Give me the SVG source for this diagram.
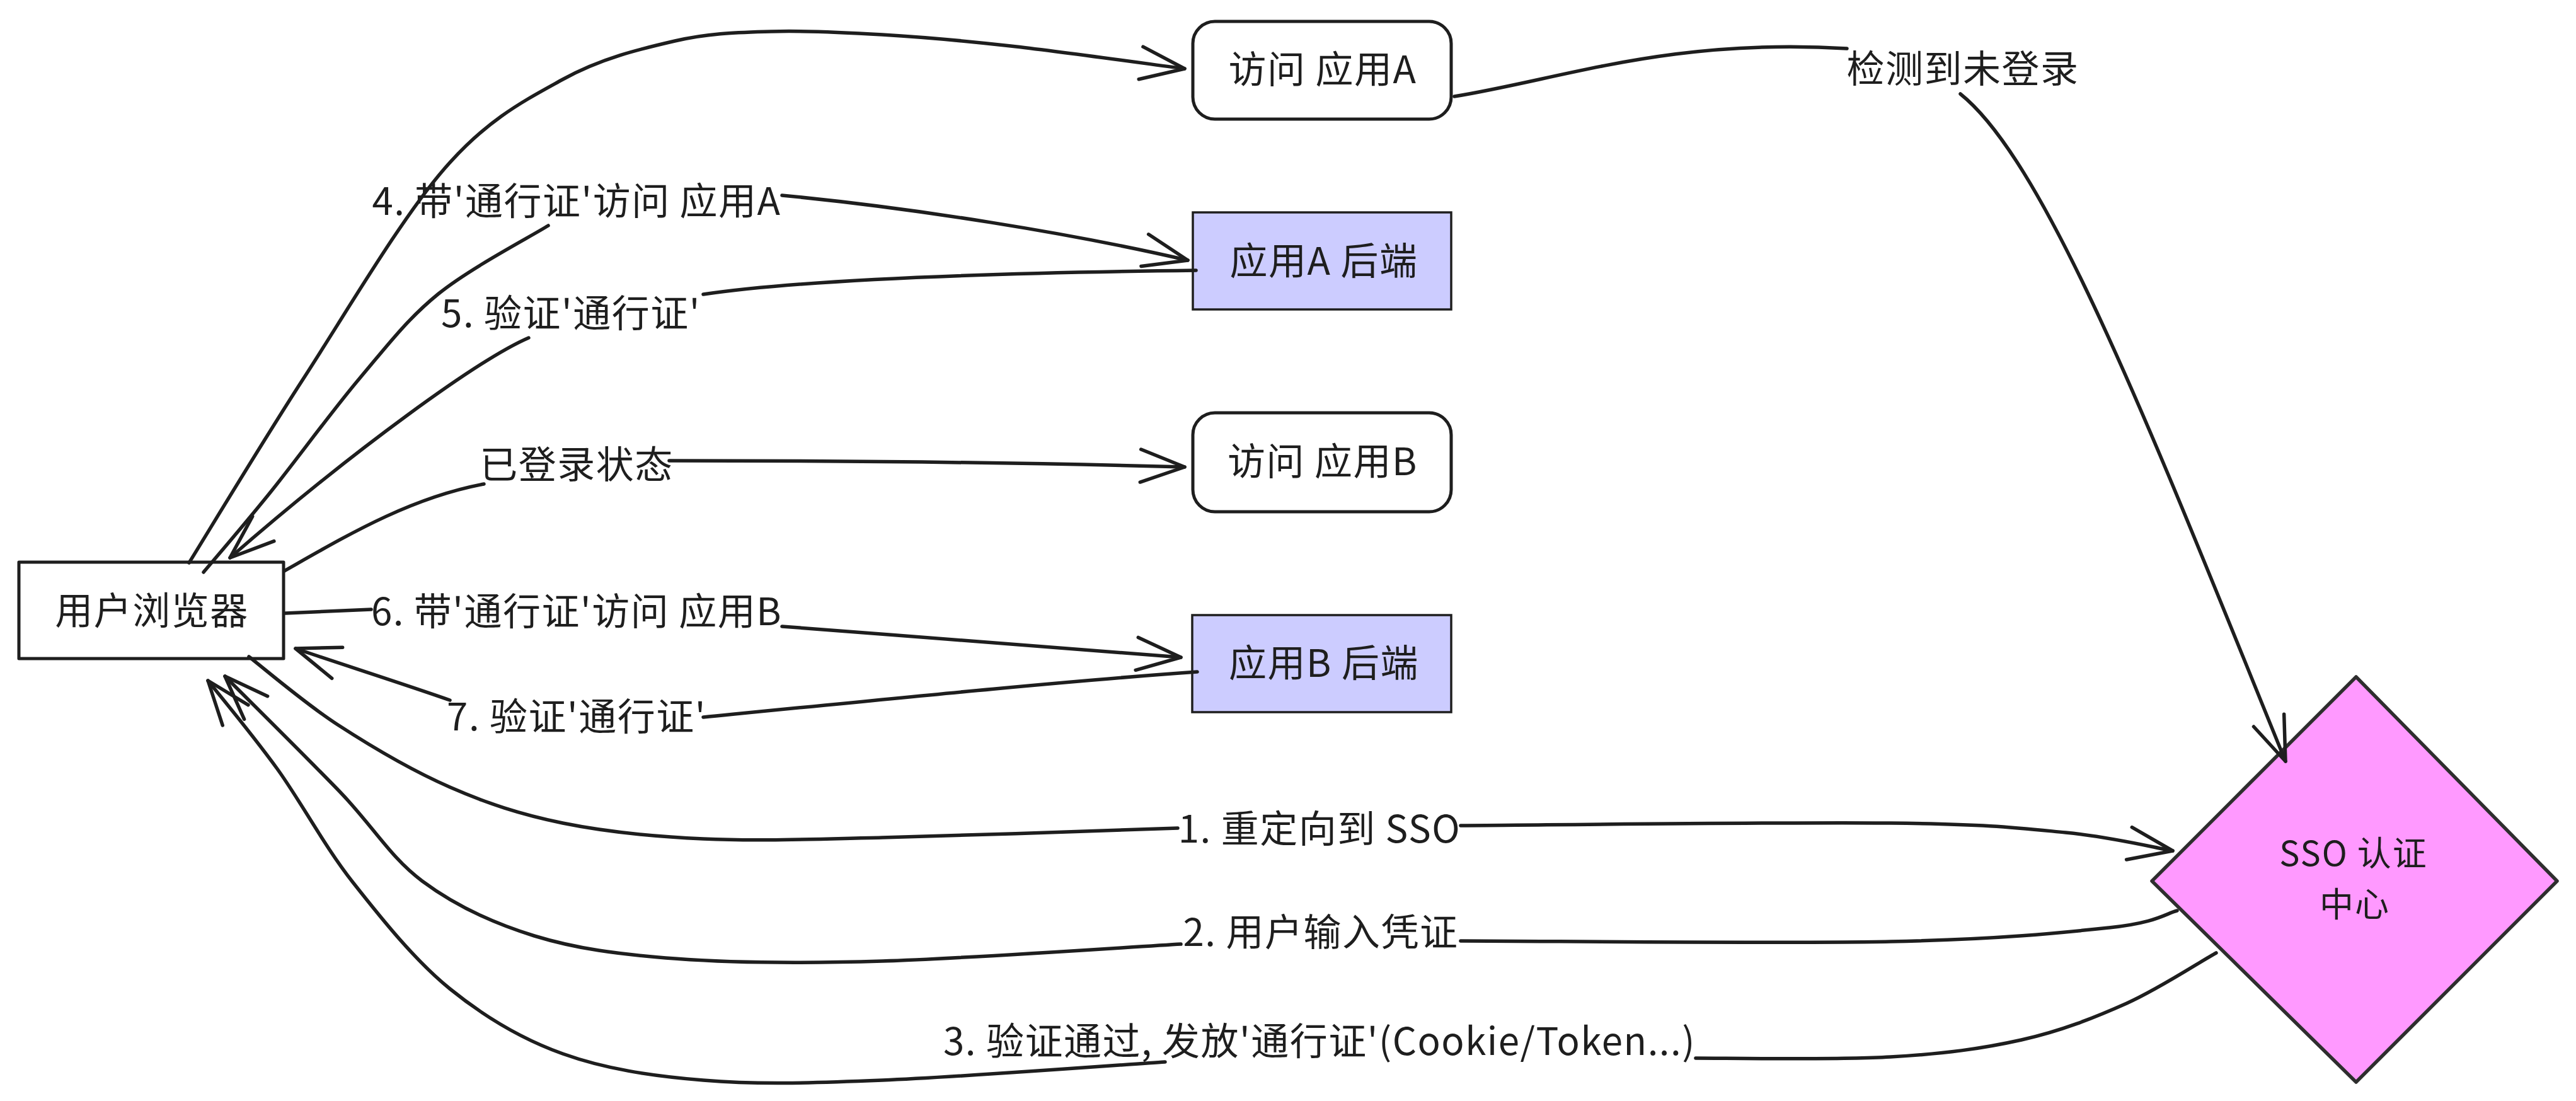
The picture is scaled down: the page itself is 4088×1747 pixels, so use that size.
<svg xmlns="http://www.w3.org/2000/svg" width="4088" height="1747" viewBox="0 0 4088 1747">
<defs>
<style>
.node{fill:#ffffff;stroke:#1e1e1e;stroke-width:5;stroke-linejoin:round}
.back{fill:#ccccff;stroke:#1e1e1e;stroke-width:3.5}
.dia{fill:#ff99ff;stroke:#2e2e2e;stroke-width:5.5;stroke-linejoin:round}
.conn{fill:none;stroke:#1e1e1e;stroke-width:5.5;stroke-linecap:round;stroke-linejoin:round;marker-end:url(#arrow)}
text{font-family:"Noto Sans CJK SC","Noto Sans",sans-serif;font-size:60px;letter-spacing:1.5px;fill:#1e1e1e;text-anchor:middle;dominant-baseline:central}
.dtext{font-size:54px;letter-spacing:2px}
</style>
<marker id="arrow" markerUnits="userSpaceOnUse" markerWidth="100" markerHeight="100" viewBox="-90 -50 100 100" refX="0" refY="0" orient="auto" overflow="visible">
<path d="M -70 -26 L 0 0 L -70 26" fill="none" stroke="#1e1e1e" stroke-width="5.5" stroke-linecap="round" stroke-linejoin="round"/>
</marker>
</defs>
<rect width="4088" height="1747" fill="#ffffff"/>

<g id="browser">
<rect class="node" x="30" y="892" width="420" height="153"/>
<text x="241" y="964">用户浏览器</text>
</g>
<g id="visit-app-a">
<rect class="node" x="1893" y="34" width="410" height="155" rx="35"/>
<text x="2099" y="105">访问 应用A</text>
</g>
<g id="app-a-backend">
<rect class="back" x="1893" y="337" width="410" height="154"/>
<text x="2101" y="409">应用A 后端</text>
</g>
<g id="visit-app-b">
<rect class="node" x="1893" y="655" width="410" height="157" rx="35"/>
<text x="2099" y="727">访问 应用B</text>
</g>
<g id="app-b-backend">
<rect class="back" x="1892" y="976" width="411" height="154"/>
<text x="2101" y="1047">应用B 后端</text>
</g>
<g id="sso-center">
<polygon class="dia" points="3739,1074 4058,1398 3739,1717 3415,1398"/>
<text class="dtext" x="3735" y="1350">SSO 认证</text>
<text class="dtext" x="3737" y="1431">中心</text>
</g>

<g id="connectors">
<path id="c-visit-a" class="conn" d="M300,893 C330.3,844.2 414.5,704.2 482,600 C549.5,495.8 636.5,347 705,268 C773.5,189 832,159.8 893,126 C954,92.2 1016,77.7 1071,65 C1126,52.3 1168.2,51.7 1223,50 C1277.8,48.3 1336.5,51.2 1400,55 C1463.5,58.8 1524,64 1604,73 C1684,82 1834,103 1880,109"/>
<path id="c-detect" class="conn" d="M2308,153 C2480,125 2650,60 2931,77 M3111,149 C3250,260 3420,700 3627,1208"/>
<path id="c-step4" class="conn" d="M323,908 C340.8,886.7 388.7,831.3 430,780 C471.3,728.7 526.7,652.3 571,600 C615.3,547.7 646.2,506.3 696,466 C745.8,425.7 841,376 870,358 M1241,310 C1450,330 1700,370 1885,413"/>
<path id="c-step5" class="conn" d="M1898,429 C1650,432 1300,440 1116,467 M839,536 C760,570 560,715 365,885"/>
<path id="c-logged" class="conn" d="M451,906 C550,850 650,790 768,768 M1062,731 C1400,731 1700,736 1880,741"/>
<path id="c-step6" class="conn" d="M453,973 L589,967 M1241,994 C1450,1010 1650,1025 1874,1043"/>
<path id="c-step7" class="conn" d="M1900,1066 C1700,1080 1450,1105 1116,1138 M714,1111 C640,1085 530,1050 469,1029"/>
<path id="c-step1" class="conn" d="M395,1042 C418.5,1060 482.8,1115.5 536,1150 C589.2,1184.5 654.5,1223 714,1249 C773.5,1275 826,1292.3 893,1306 C960,1319.7 1031.5,1327.2 1116,1331 C1200.5,1334.8 1274.5,1331.8 1400,1329 C1525.5,1326.2 1790.8,1316.5 1869,1314 M2318,1310 C2431.7,1309.3 2840,1304.2 3000,1306 C3160,1307.8 3203.3,1313.7 3278,1321 C3352.7,1328.3 3419.7,1345.2 3448,1350"/>
<path id="c-step2" class="conn" d="M3455,1445 C3437,1449.5 3423,1464 3347,1472 C3271,1480 3171.5,1490.5 3000,1494 C2828.5,1497.5 2431.7,1493 2318,1493 M1874,1498 C1795,1502.5 1534,1521 1400,1525 C1266,1529 1163,1528 1071,1521 C979,1514 915,1505.5 848,1485 C781,1464.5 721,1436 670,1398 C619,1360 592,1311 540,1257 C488,1203 387.5,1104 357,1073"/>
<path id="c-step3" class="conn" d="M3517,1512 C3493,1525 3426.5,1569 3375,1592 C3323.5,1615 3270.5,1636 3208,1650 C3145.5,1664 3086,1672 3000,1677 C2914,1682 2742.5,1679 2691,1679 M1849,1685 C1774,1690 1522,1709 1400,1714 C1278,1719 1200.5,1721 1116,1714 C1031.5,1707 960,1696 893,1672 C826,1648 769.5,1614 714,1569 C658.5,1524 605.7,1458 560,1400 C514.3,1342 478.3,1273 440,1220 C401.7,1167 348.3,1103 330,1080"/>
</g>

<g id="connector-labels">
<text x="3115" y="104">检测到未登录</text>
<text x="915" y="314">4. 带'通行证'访问 应用A</text>
<text x="906" y="492">5. 验证'通行证'</text>
<text x="915" y="732">已登录状态</text>
<text x="915" y="965">6. 带'通行证'访问 应用B</text>
<text x="915" y="1132">7. 验证'通行证'</text>
<text x="2094" y="1310">1. 重定向到 SSO</text>
<text x="2096" y="1474">2. 用户输入凭证</text>
<text x="2094" y="1647">3. 验证通过, 发放'通行证'(Cookie/Token...)</text>
</g>
</svg>
